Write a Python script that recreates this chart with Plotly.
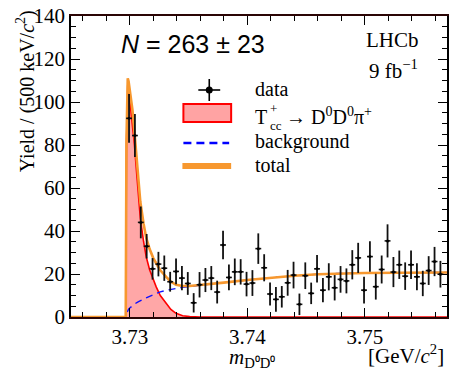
import numpy as np
import plotly.graph_objects as go

# Binning of the D0D0 invariant mass (GeV/c^2)
bin_lo = 3.72969
bin_width = 0.0005
yields = [92.4, 84.4, 44.0, 32.9, 22.4, 24.6, 22.7, 16.4, 21.2, 18.1,
          15.6, 6.6, 15.0, 17.2, 18.1, 11.6, 33.5, 18.4, 21.0, 21.0,
          15.3, 15.8, 31.8, 22.9, 10.7, 8.2, 9.4, 15.9, 19.5, 5.9,
          19.2, 11.0, 22.4, 12.5, 18.7, 13.6, 17.5, 16.8, 24.3, 27.5,
          12.5, 28.1, 14.1, 22.1, 35.4, 20.9, 24.3, 19.0, 24.3, 18.7,
          15.6, 21.6, 25.8, 19.9]
errors = [11.3, 10.0, 7.4, 5.7, 5.0, 5.7, 5.9, 4.6, 6.0, 5.6,
          5.3, 4.5, 5.9, 5.6, 5.6, 5.3, 6.6, 6.0, 6.2, 5.9,
          5.7, 6.0, 7.1, 6.3, 5.4, 5.7, 5.0, 6.0, 6.2, 5.0,
          6.2, 5.0, 6.4, 5.6, 6.3, 5.9, 6.2, 5.8, 6.8, 7.0,
          6.2, 7.1, 6.0, 6.5, 7.7, 7.0, 6.6, 6.4, 6.6, 6.3,
          5.9, 6.7, 6.8, 6.2]
centers = bin_lo + bin_width * (np.arange(len(yields)) + 0.5)

# Fit components sampled on a common mass grid
fit_mass = [3.7250, 3.72966, 3.72972, 3.72978, 3.72983, 3.72990, 3.73000,
            3.73012, 3.73023, 3.73040, 3.73057, 3.73075, 3.73090, 3.73118,
            3.73140, 3.73169, 3.73200, 3.73225, 3.73260, 3.73310, 3.73350,
            3.73394, 3.73450, 3.73510, 3.73600, 3.73800, 3.74000, 3.74200,
            3.74400, 3.74600, 3.74800, 3.75000, 3.75300, 3.75700]
fit_signal = [0, 0, 80, 104, 108, 106, 101,
              96, 91, 80, 68, 56, 46, 35,
              28, 22, 17, 14, 10, 6.3, 3.5,
              1.7, 0.6, 0.2, 0, 0, 0, 0,
              0, 0, 0, 0, 0, 0]
fit_background = [0, 0, 1.5, 2.4, 3.0, 3.6, 4.2,
                  4.8, 5.3, 6.0, 6.6, 7.1, 7.6, 8.3,
                  8.9, 9.6, 10.4, 11.0, 11.7, 12.4, 12.9,
                  13.3, 13.8, 14.2, 14.8, 16.0, 17.2, 18.3,
                  19.2, 19.9, 20.3, 20.5, 20.6, 20.7]
fit_total = list(np.array(fit_signal) + np.array(fit_background))

SERIF = "Liberation Serif"
ORANGE = "#f7982f"

fig = go.Figure()
fig.add_trace(go.Scatter(x=fit_mass, y=fit_signal, mode="lines", fill="tozeroy",
                         fillcolor="rgba(255,60,60,0.45)",
                         line=dict(color="#ff0000", width=1.6), showlegend=False))
fig.add_trace(go.Scatter(x=fit_mass, y=fit_background, mode="lines",
                         line=dict(color="#1010ff", width=1.4, dash="7px,5px"),
                         showlegend=False))
fig.add_trace(go.Scatter(x=fit_mass, y=fit_total, mode="lines",
                         line=dict(color=ORANGE, width=2.6), showlegend=False))
fig.add_trace(go.Scatter(
    x=centers, y=yields, mode="markers",
    marker=dict(color="black", size=3),
    error_y=dict(type="data", array=errors, color="#111111", thickness=1.8, width=0),
    error_x=dict(type="constant", value=bin_width / 2, color="#111111", thickness=1.6, width=0),
    showlegend=False))


def px(x):
    return (x - 71) / 378


def py(y):
    return (317 - y) / 301


ann = []


def text(x, y, s, size=20, family=SERIF, xanchor="left", angle=0, yanchor="middle"):
    ann.append(dict(x=px(x), y=py(y), xref="paper", yref="paper", text=s,
                    showarrow=False, xanchor=xanchor, yanchor=yanchor,
                    textangle=angle, font=dict(family=family, size=size, color="black")))


text(119, 44, "<i>N</i> = 263 ± 23", size=25, family="Liberation Sans")
text(394, 40, "LHCb", size=21, xanchor="center")
text(395, 70, "9 fb<sup>−1</sup>", size=21, xanchor="center")

# legend entries
text(254, 89, "data", size=20)
text(254, 117, "T", size=20)
text(269, 108, "+", size=13)
text(269, 125, "cc", size=13)
text(285, 116, "→ D<sup>0</sup>D<sup>0</sup>π<sup>+</sup>", size=20)
text(254, 141, "background", size=20)
text(254, 165, "total", size=20)

# axis titles
text(25, 8, "Yield / (500 keV/<i>c</i><sup>2</sup>)", size=20, xanchor="center",
     angle=-90, yanchor="top")
text(253, 358, "<i>m</i><sub>D⁰D⁰</sub>", size=21, xanchor="center")
text(448, 354, "[GeV/<i>c</i><sup>2</sup>]", size=21, xanchor="right")

shapes = [
    dict(type="line", xref="paper", yref="paper", x0=px(199), x1=px(221), y0=py(90), y1=py(90),
         line=dict(color="black", width=1.6)),
    dict(type="line", xref="paper", yref="paper", x0=px(210), x1=px(210), y0=py(79), y1=py(101),
         line=dict(color="black", width=1.6)),
    dict(type="circle", xref="paper", yref="paper", x0=px(206.5), x1=px(213.5), y0=py(86.5), y1=py(93.5),
         fillcolor="black", line=dict(color="black", width=0)),
    dict(type="rect", xref="paper", yref="paper", x0=px(184), x1=px(232), y0=py(104), y1=py(122),
         fillcolor="#ffa3a3", line=dict(color="#ff0000", width=2)),
    dict(type="line", xref="paper", yref="paper", x0=px(184), x1=px(230), y0=py(143), y1=py(143),
         line=dict(color="#0000ff", width=2.5, dash="8px,5px")),
    dict(type="line", xref="paper", yref="paper", x0=px(183), x1=px(232), y0=py(166), y1=py(166),
         line=dict(color=ORANGE, width=6)),
]

fig.update_layout(
    width=450, height=373,
    margin=dict(l=71, r=1, t=16, b=56),
    paper_bgcolor="white", plot_bgcolor="white",
    annotations=ann, shapes=shapes,
    xaxis=dict(range=[3.725, 3.757], tick0=3.73, dtick=0.01, tickformat=".2f",
               ticks="inside", ticklen=9, tickwidth=1.3, tickcolor="black",
               minor=dict(dtick=0.002, ticks="inside", ticklen=5, tickcolor="black", tickwidth=1.1),
               showline=True, linecolor="#2a0505", linewidth=1.8, mirror="ticks",
               showgrid=False, zeroline=False,
               tickfont=dict(family=SERIF, size=21, color="black")),
    yaxis=dict(range=[0, 140], dtick=20,
               ticks="inside", ticklen=9, tickwidth=1.3, tickcolor="black",
               minor=dict(dtick=5, ticks="inside", ticklen=5, tickcolor="black", tickwidth=1.1),
               showline=True, linecolor="black", linewidth=1.6, mirror="ticks",
               showgrid=False, zeroline=False,
               tickfont=dict(family=SERIF, size=21, color="black")),
)

fig.write_html("out.html")
